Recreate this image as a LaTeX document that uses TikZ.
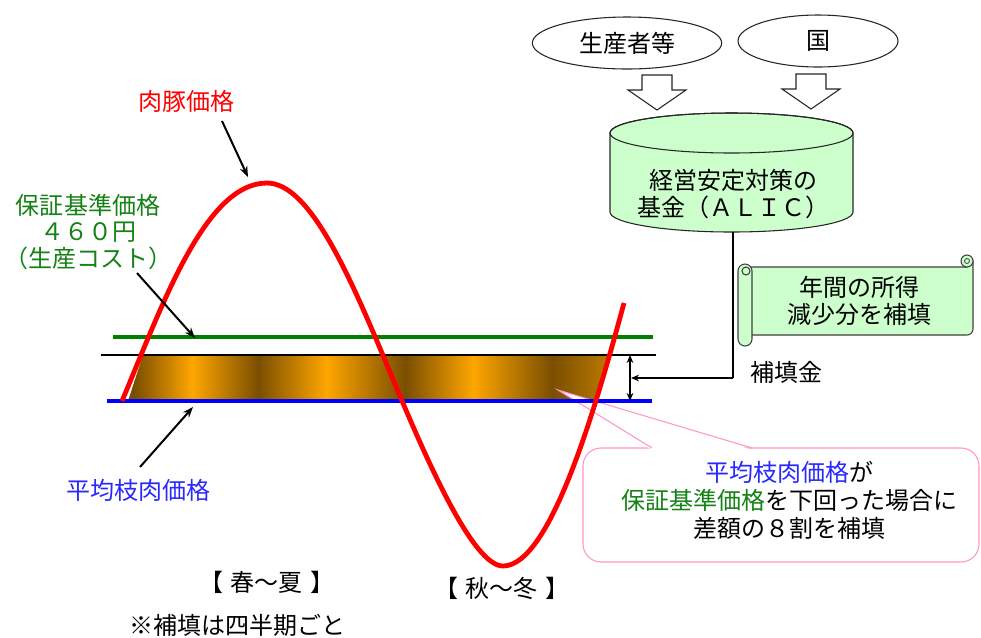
\documentclass[tikz,border=0pt]{standalone}
\usepackage{fontspec}
\setmainfont{Noto Sans CJK JP}
\usetikzlibrary{shapes.geometric,arrows.meta}
\definecolor{bandlight}{RGB}{255,166,0}
\definecolor{banddark}{RGB}{122,78,0}
\definecolor{fundgreen}{RGB}{204,255,204}
\definecolor{txtgreen}{RGB}{20,130,20}
\definecolor{pinkline}{RGB}{255,150,200}
\definecolor{linegreen}{RGB}{0,128,0}
\definecolor{txtblue}{RGB}{40,40,255}
\begin{document}
\begin{tikzpicture}[x=0.75pt, y=-0.75pt,
  txt/.style={inner sep=0pt, align=center, font=\fontsize{18pt}{20.25pt}\selectfont},
  outl/.style={draw=black!85, line width=0.8pt},
  annot/.style={line width=1.5pt, -{Stealth[length=8pt,width=6pt]}},
  thinarr/.style={line width=1.1pt, -{Stealth[length=6pt,width=5pt]}},
  blockarr/.pic={\draw[outl, fill=white] (-15,0) -- (15,0) -- (15,15) -- (29,15) -- (0,35) -- (-29,15) -- (-15,15) -- cycle;},
  scrollsty/.style={draw=black!75, line width=0.8pt, fill=fundgreen}
]
\useasboundingbox (0,0) rectangle (981,637);

% ---- sources
\node[ellipse, outl, minimum width=142pt, minimum height=39pt, txt] (prod) at (627,43) {生産者等};
\node[ellipse, outl, minimum width=120pt, minimum height=39pt, txt] (gov) at (818,41) {国};
\pic at (657,75) {blockarr};
\pic at (811,74) {blockarr};

% ---- fund cylinder
\draw[outl, fill=fundgreen] (610,133) -- (610,212)
  arc[start angle=180, end angle=0, x radius=121.5, y radius=20] -- (853,133)
  arc[start angle=0, end angle=-180, x radius=121.5, y radius=20] -- cycle;
\draw[outl] (731.5,133) ellipse [x radius=121.5, y radius=20];
\node[txt] (fund) at (733,194) {経営安定対策の\\基金（ＡＬＩＣ）};
\coordinate (fundbot) at (733,232);

% ---- scroll
\draw[scrollsty] (748,267) -- (967,267) -- (967,261) -- (973,261) -- (973,329)
  arc[start angle=0, end angle=90, radius=6] -- (748,335) -- cycle;
\draw[scrollsty] (967,261) circle[radius=6];
\draw[draw=black!75, line width=0.6pt] (967,261) circle[radius=2.5];
\draw[scrollsty, rounded corners=5.25pt] (738,264) rectangle (752,346);
\draw[scrollsty] (746,271) circle[radius=4];
\node[txt] (scrolltext) at (859,301) {年間の所得\\減少分を補填};

% ---- band between guarantee and average price
\begin{scope}
\clip (128,401) -- (143,355) -- (608,355) -- (594,401) -- cycle;
\fill[banddark] (110,350) rectangle (134.5,405);
\shade[left color=banddark, right color=bandlight] (134,350) rectangle (192.5,405);
\shade[left color=bandlight, right color=banddark] (192,350) rectangle (258.5,405);
\shade[left color=banddark, right color=bandlight] (258,350) rectangle (326.5,405);
\shade[left color=bandlight, right color=banddark] (326,350) rectangle (405.5,405);
\shade[left color=banddark, right color=bandlight] (405,350) rectangle (473.5,405);
\shade[left color=bandlight, right color=banddark] (473,350) rectangle (552.5,405);
\shade[left color=banddark, right color=banddark!45!bandlight] (552,350) rectangle (615,405);
\end{scope}

% ---- callout
\draw[pinkline, line width=0.8pt, fill=white, rounded corners=13.5pt] (583,448) rectangle (979,562);
\fill[white] (652,450) -- (558,390) -- (752,450) -- cycle;
\draw[pinkline, line width=0.8pt] (652,448) -- (558,390) -- (752,448);
\node[txt, font=\fontsize{18pt}{21pt}\selectfont] (callout) at (789,500)
  {{\color{txtblue}平均枝肉価格}が\\{\color{txtgreen}保証基準価格}を下回った場合に\\差額の８割を補填};

% ---- level lines
\coordinate (gl) at (113,337); \coordinate (gr) at (653,337);
\coordinate (kl) at (101,355); \coordinate (kr) at (656,355);
\coordinate (bl) at (107,401); \coordinate (br) at (652,401);
\draw[linegreen, line width=2.3pt] (gl) -- (gr);
\draw[black, line width=1.1pt] (kl) -- (kr);
\draw[blue, line width=3pt] (bl) -- (br);

% ---- pork price curve
\draw[red, line width=3.6pt] (122,401) .. controls (162,306) and (205,183) .. (267,183)
  .. controls (311,183) and (352,281) .. (392,377)
  .. controls (427,461) and (473,566) .. (503,566)
  .. controls (550,566) and (595,410) .. (624,303);

% ---- compensation arrows
\coordinate (gaptop) at (630,355); \coordinate (gapbot) at (630,401);
\coordinate (gapmid) at (631,378); \coordinate (feed) at (733,378);
\draw[{Stealth[length=6pt,width=5pt]}-{Stealth[length=6pt,width=5pt]}, line width=1.1pt] (gaptop) -- (gapbot);
\draw[line width=1.4pt] (fundbot) -- (feed);
\draw[thinarr] (feed) -- (gapmid);
\node[txt] (hotenkin) at (786,372) {補填金};

% ---- labels
\node[txt, text=red] (pricelbl) at (186,101) {肉豚価格};
\coordinate (pricefrom) at (222,121); \coordinate (priceto) at (248,177);
\draw[annot] (pricefrom) -- (priceto);

\node[txt, text=txtgreen, font=\fontsize{18pt}{20pt}\selectfont] (stdlbl) at (88,232) {保証基準価格\\４６０円\\（生産コスト）};
\coordinate (stdfrom) at (137,273); \coordinate (stdto) at (195,338);
\draw[annot] (stdfrom) -- (stdto);

\node[txt, text=txtblue] (avglbl) at (138,490) {平均枝肉価格};
\coordinate (avgfrom) at (140,467); \coordinate (avgto) at (193,407);
\draw[annot] (avgfrom) -- (avgto);

\node[txt] (spring) at (267,582) {【\hspace{6pt}春～夏\hspace{6pt}】};
\node[txt] (autumn) at (502,588) {【\hspace{6pt}秋～冬\hspace{6pt}】};
\node[txt] (note) at (237,625) {※補填は四半期ごと};
\end{tikzpicture}
\end{document}
